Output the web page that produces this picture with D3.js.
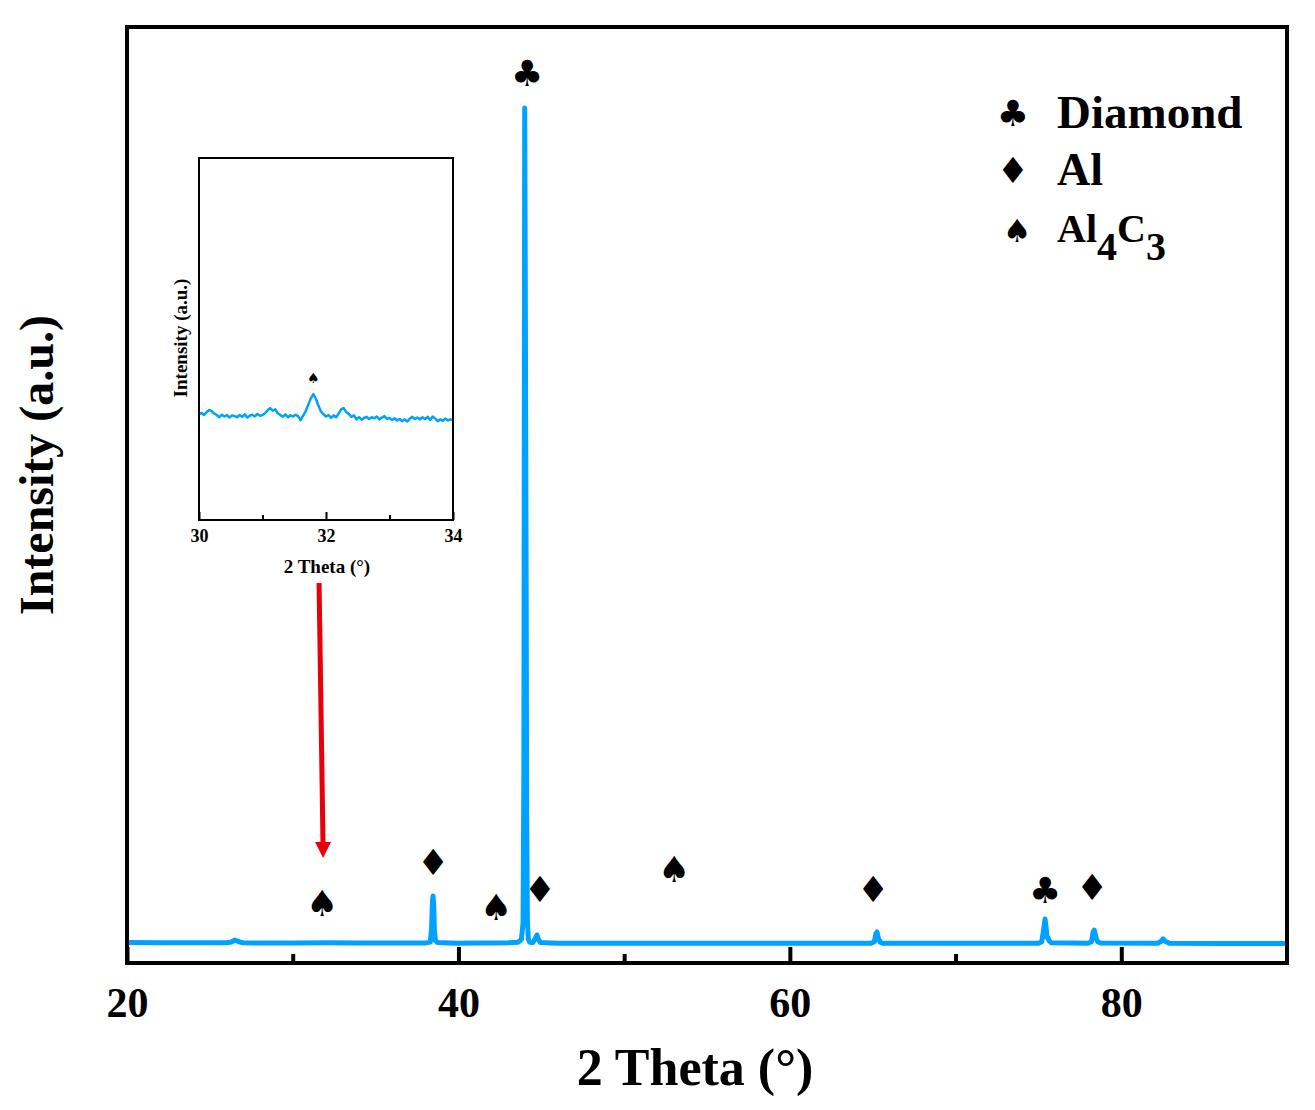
<!DOCTYPE html>
<html>
<head>
<meta charset="utf-8">
<script src="https://cdn.jsdelivr.net/npm/d3@7"></script>
<style>
  body { margin: 0; background: #fff; }
  text { font-family: "Liberation Serif", "Times New Roman", serif; font-weight: bold; }
  .sym { font-family: "DejaVu Sans", sans-serif; font-weight: normal; }
</style>
</head>
<body>
<div id="my_dataviz"></div>
<script>
// main XRD pattern: 2 theta (deg) and intensity (a.u.)
var mainTheta = [20.0, 22.0, 24.0, 26.0, 26.3, 26.52, 26.75, 27.0, 28.0, 30.0, 32.0, 34.0, 36.0, 38.0,
  38.3, 38.38, 38.43, 38.47, 38.51, 38.55, 38.62, 38.75, 39.5, 40.0, 41.0, 42.0, 43.0, 43.6, 43.8,
  43.9, 43.95, 44.0, 44.03, 44.06, 44.09, 44.12, 44.16, 44.22, 44.3, 44.5, 44.64, 44.74, 44.82,
  44.95, 46.0, 50.0, 55.0, 60.0, 64.9, 65.1, 65.2, 65.26, 65.33, 65.45, 65.6, 70.0, 75.0, 75.2,
  75.3, 75.4, 75.46, 75.52, 75.58, 75.64, 75.78, 78.0, 78.2, 78.3, 78.36, 78.42, 78.5, 78.58,
  78.75, 82.2, 82.4, 82.52, 82.65, 82.9, 86.0, 90.0];
var mainCounts = [96, 95, 95, 95, 99, 108, 100, 95, 94, 94, 95, 94, 94, 94,
  98, 160, 290, 315, 270, 150, 104, 96, 94, 93, 94, 94, 95, 98, 110,
  190, 900, 4019, 3300, 2500, 1700, 700, 200, 112, 97, 96, 115, 132, 112,
  96, 93, 93, 93, 93, 93, 100, 140, 146, 118, 98, 93, 93, 93, 100,
  150, 207, 170, 120, 118, 105, 95, 93, 100, 145, 155, 140, 112, 100,
  94, 93, 102, 113, 102, 93, 92, 92];

// inset pattern 30-34 deg
var insetTheta = [30.00, 30.04, 30.08, 30.12, 30.16, 30.20, 30.24, 30.28, 30.32, 30.36, 30.40, 30.44,
  30.48, 30.52, 30.56, 30.60, 30.64, 30.68, 30.72, 30.76, 30.80, 30.84, 30.88, 30.92, 30.96, 31.00,
  31.04, 31.08, 31.12, 31.16, 31.20, 31.24, 31.28, 31.32, 31.36, 31.40, 31.44, 31.48, 31.52, 31.56,
  31.60, 31.64, 31.68, 31.72, 31.76, 31.80, 31.84, 31.88, 31.92, 31.96, 32.00, 32.04, 32.08, 32.12,
  32.16, 32.20, 32.24, 32.28, 32.32, 32.36, 32.40, 32.44, 32.48, 32.52, 32.56, 32.60, 32.64, 32.68,
  32.72, 32.76, 32.80, 32.84, 32.88, 32.92, 32.96, 33.00, 33.04, 33.08, 33.12, 33.16, 33.20, 33.24,
  33.28, 33.32, 33.36, 33.40, 33.44, 33.48, 33.52, 33.56, 33.60, 33.64, 33.68, 33.72, 33.76, 33.80,
  33.84, 33.88, 33.92, 33.96, 34.00];
var insetCounts = [29.2, 29.6, 29.0, 29.8, 30.4, 30.1, 29.4, 29.0, 28.4, 29.1, 28.6, 29.0,
  28.3, 28.9, 28.7, 28.4, 29.0, 28.5, 29.2, 28.3, 28.8, 29.1, 28.6, 29.3, 28.8, 29.0,
  29.5, 30.3, 30.9, 30.2, 30.6, 29.5, 29.0, 28.5, 29.2, 28.4, 28.9, 28.6, 29.1, 28.7,
  27.6, 28.8, 30.1, 31.8, 33.6, 34.8, 33.5, 31.6, 30.0, 29.2, 28.6, 29.0, 28.2, 28.9,
  28.4, 29.4, 30.6, 30.9, 29.8, 29.3, 28.5, 28.9, 27.8, 28.4, 27.7, 28.2, 28.5, 27.9,
  28.4, 28.1, 28.6, 27.8, 28.3, 28.7, 27.9, 28.2, 27.6, 28.1, 27.5, 27.9, 27.3, 27.8,
  27.2, 28.0, 28.5, 27.9, 28.3, 27.8, 28.4, 27.9, 28.5, 27.6, 28.6, 28.0, 27.3, 27.8,
  27.4, 28.0, 27.5, 27.8, 27.6];

// phase markers above the peaks
var markerType = ["spade", "diamond", "spade", "club", "diamond", "spade", "diamond", "club", "diamond"];
var markerTheta = [31.77, 38.47, 42.27, 44.14, 44.92, 53.01, 65.02, 75.40, 78.24];
var markerLevel = [282, 475, 263, 4184, 348, 442, 348, 343, 357];

var legendType = ["club", "diamond", "spade"];
var majorTicks = [20, 40, 60, 80];
var minorTicks = [30, 50, 70];
var insetMajor = [30, 32, 34];
var insetMinor = [31, 33];

var glyph = { club: "\u2663", diamond: "\u2666", spade: "\u2660" };
var blue = "#00a2ff";

var width = 1315, height = 1110;
var frame = { left: 127, right: 1287, top: 27, bottom: 963 };

var svg = d3.select("#my_dataviz")
  .append("svg")
  .attr("width", width)
  .attr("height", height);

svg.append("rect").attr("width", width).attr("height", height).attr("fill", "#fff");

var x = d3.scaleLinear().domain([20, 90]).range([frame.left, frame.right]);
var y = d3.scaleLinear().domain([0, 4400]).range([frame.bottom, frame.top]);

// pattern
var mainData = mainTheta.map(function (t, i) { return [t, mainCounts[i]]; });
var line = d3.line()
  .x(function (d) { return x(d[0]); })
  .y(function (d) { return y(d[1]); });

svg.append("path")
  .datum(mainData)
  .attr("d", line)
  .attr("fill", "none")
  .attr("stroke", blue)
  .attr("stroke-width", 5)
  .attr("stroke-linejoin", "round");

// x axis, ticks pointing in
var xAxis = svg.append("g")
  .attr("transform", "translate(0," + frame.bottom + ")")
  .call(d3.axisBottom(x).tickValues(majorTicks).tickSizeInner(-16).tickSizeOuter(0).tickPadding(24));
xAxis.selectAll("text").attr("font-size", 42).attr("fill", "#000")
  .style("font-family", '"Liberation Serif", serif').style("font-weight", "bold");
xAxis.selectAll("line").attr("stroke-width", 4);
xAxis.select(".domain").remove();

var xMinor = svg.append("g")
  .attr("transform", "translate(0," + frame.bottom + ")")
  .call(d3.axisBottom(x).tickValues(minorTicks).tickSizeInner(-9).tickSizeOuter(0).tickFormat(""));
xMinor.selectAll("line").attr("stroke-width", 4);
xMinor.select(".domain").remove();

// frame
svg.append("rect")
  .attr("x", frame.left).attr("y", frame.top)
  .attr("width", frame.right - frame.left).attr("height", frame.bottom - frame.top)
  .attr("fill", "none").attr("stroke", "#000").attr("stroke-width", 4);

// titles
svg.append("text")
  .attr("x", 695).attr("y", 1085)
  .attr("text-anchor", "middle").attr("font-size", 52)
  .text("2 Theta (\u00b0)");

svg.append("text")
  .attr("transform", "translate(53,465) rotate(-90)")
  .attr("text-anchor", "middle").attr("font-size", 48)
  .text("Intensity (a.u.)");

// peak markers
svg.selectAll(".marker")
  .data(markerType)
  .enter()
  .append("text")
  .attr("class", "sym marker")
  .attr("x", function (d, i) { return x(markerTheta[i]); })
  .attr("y", function (d, i) { return y(markerLevel[i]); })
  .attr("dy", "0.36em")
  .attr("text-anchor", "middle")
  .attr("font-size", 36)
  .text(function (d) { return glyph[d]; });

// red arrow pointing at the Al4C3 peak
var arrowTheta = [31.59, 31.83];
var arrowLevel = [1786, 494];
var ax0 = x(arrowTheta[0]), ay0 = y(arrowLevel[0]), ax1 = x(arrowTheta[1]), ay1 = y(arrowLevel[1]);
svg.append("line")
  .attr("x1", ax0).attr("y1", ay0).attr("x2", ax1).attr("y2", ay1 - 12)
  .attr("stroke", "#e8000b").attr("stroke-width", 5);
svg.append("path")
  .attr("d", "M" + (ax1 - 8) + "," + (ay1 - 16) + "L" + (ax1 + 8) + "," + (ay1 - 16) + "L" + ax1 + "," + ay1 + "Z")
  .attr("fill", "#e8000b");

// legend
var legendY = [128, 185, 242];
var legendSym = svg.selectAll(".legsym")
  .data(legendType)
  .enter()
  .append("text")
  .attr("class", "sym legsym")
  .attr("x", function (d) { return d == "spade" ? 1017 : 1013; })
  .attr("y", function (d, i) { return legendY[i] - (d == "spade" ? 12 : 15); })
  .attr("dy", "0.36em")
  .attr("text-anchor", "middle")
  .attr("font-size", function (d) { return d == "spade" ? 32 : 36; })
  .text(function (d) { return glyph[d]; });

svg.append("text").attr("x", 1057).attr("y", legendY[0]).attr("font-size", 47).text("Diamond");
svg.append("text").attr("x", 1057).attr("y", legendY[1]).attr("font-size", 46).text("Al");
var al4c3 = svg.append("text").attr("x", 1057).attr("y", legendY[2]).attr("font-size", 40);
al4c3.append("tspan").text("Al");
al4c3.append("tspan").attr("dy", 18).text("4");
al4c3.append("tspan").attr("dy", -18).text("C");
al4c3.append("tspan").attr("dy", 18).text("3");

// inset
var inset = { left: 199, right: 453, top: 158, bottom: 520 };
var xIn = d3.scaleLinear().domain([30, 34]).range([inset.left, inset.right]);
var yIn = d3.scaleLinear().domain([0, 100]).range([inset.bottom, inset.top]);

var insetData = insetTheta.map(function (t, i) { return [t, insetCounts[i]]; });
svg.append("path")
  .datum(insetData)
  .attr("d", d3.line()
    .x(function (d) { return xIn(d[0]); })
    .y(function (d) { return yIn(d[1]); }))
  .attr("fill", "none")
  .attr("stroke", blue)
  .attr("stroke-width", 2.5)
  .attr("stroke-linejoin", "round");

var inAxis = svg.append("g")
  .attr("transform", "translate(0," + inset.bottom + ")")
  .call(d3.axisBottom(xIn).tickValues(insetMajor).tickSizeInner(-8).tickSizeOuter(0).tickPadding(9)
    .tickFormat(d3.format("d")));
inAxis.selectAll("text").attr("font-size", 18).attr("fill", "#000")
  .style("font-family", '"Liberation Serif", serif').style("font-weight", "bold");
inAxis.selectAll("line").attr("stroke-width", 2);
inAxis.select(".domain").remove();

var inMinor = svg.append("g")
  .attr("transform", "translate(0," + inset.bottom + ")")
  .call(d3.axisBottom(xIn).tickValues(insetMinor).tickSizeInner(-5).tickSizeOuter(0).tickFormat(""));
inMinor.selectAll("line").attr("stroke-width", 2);
inMinor.select(".domain").remove();

svg.append("rect")
  .attr("x", inset.left).attr("y", inset.top)
  .attr("width", inset.right - inset.left).attr("height", inset.bottom - inset.top)
  .attr("fill", "none").attr("stroke", "#000").attr("stroke-width", 2);

svg.append("text")
  .attr("x", 327).attr("y", 573)
  .attr("text-anchor", "middle").attr("font-size", 19)
  .text("2 Theta (\u00b0)");
svg.append("text")
  .attr("transform", "translate(187,338) rotate(-90)")
  .attr("text-anchor", "middle").attr("font-size", 19)
  .text("Intensity (a.u.)");

svg.append("text")
  .attr("class", "sym")
  .attr("x", xIn(31.8)).attr("y", yIn(39.2))
  .attr("dy", "0.36em")
  .attr("text-anchor", "middle")
  .attr("font-size", 14)
  .text(glyph.spade);
</script>
</body>
</html>
